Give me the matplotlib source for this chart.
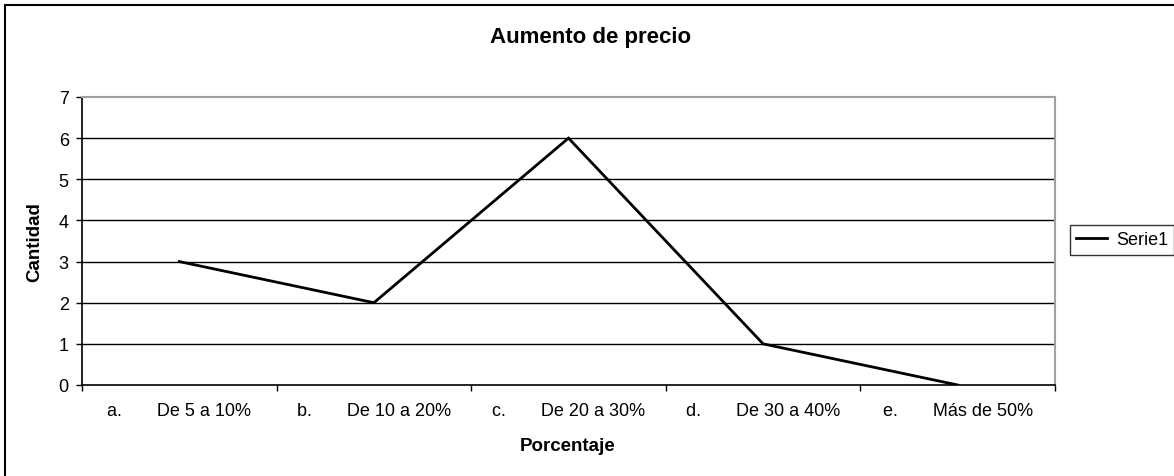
import matplotlib
matplotlib.use("Agg")
import matplotlib.pyplot as plt
from matplotlib.patches import Rectangle

letters = ["a.", "b.", "c.", "d.", "e."]
ranges = ["De 5 a 10%", "De 10 a 20%", "De 20 a 30%", "De 30 a 40%", "Más de 50%"]
values = [3, 2, 6, 1, 0]
series_name = "Serie1"
title = "Aumento de precio"
xlabel = "Porcentaje"
ylabel = "Cantidad"
yticks = [0, 1, 2, 3, 4, 5, 6, 7]

plt.rcParams['font.family'] = ['Liberation Sans', 'DejaVu Sans']

W, H = 1174, 477
fig = plt.figure(figsize=(W / 100, H / 100), dpi=100)
fig.patch.set_facecolor('white')

ax = fig.add_axes([82 / W, (H - 386) / H, (1055 - 82) / W, (386 - 98) / H])

xs = list(range(len(values)))
labels = [f"{l}       {r}" for l, r in zip(letters, ranges)]

ax.plot(xs, values, color='black', lw=2.0, label=series_name, zorder=3,
        solid_joinstyle='miter')

ax.set_xlim(-0.5, len(values) - 0.5)
ax.set_ylim(0, 7)
ax.set_yticks(yticks)
ax.set_yticklabels([str(v) for v in yticks], fontsize=13)
ax.tick_params(axis='y', direction='out', length=4.5, width=1, pad=5, colors='black')

ax.set_xticks([i - 0.5 for i in range(len(values) + 1)])
ax.set_xticklabels([])
ax.set_xticks(xs, minor=True)
ax.set_xticklabels(labels, minor=True, fontsize=13)
ax.tick_params(axis='x', which='major', direction='out', length=4.5, width=1)
ax.tick_params(axis='x', which='minor', length=0, pad=12)

for v in yticks[1:-1]:
    ax.axhline(v, color='black', lw=1, zorder=1)

for s in ['left', 'bottom']:
    ax.spines[s].set_color('black')
    ax.spines[s].set_linewidth(1.2)
for s in ['top', 'right']:
    ax.spines[s].set_color('#a0a0a0')
    ax.spines[s].set_linewidth(1.5)

fig.text(591 / W, (H - 38) / H, title, ha='center', va='center',
         fontsize=16, fontweight='bold')
fig.text(568 / W, (H - 447) / H, xlabel, ha='center', va='center',
         fontsize=13.5, fontweight='bold')
fig.text(35 / W, (H - 242) / H, ylabel, ha='center', va='center',
         rotation=90, fontsize=13.5, fontweight='bold')

leg = fig.legend(loc='center left', bbox_to_anchor=(1070 / W, (H - 241) / H),
                 fontsize=13, frameon=True, fancybox=False, shadow=False,
                 handlelength=1.7, handletextpad=0.5, borderpad=0.35,
                 borderaxespad=0)
leg.get_frame().set_edgecolor('black')
leg.get_frame().set_linewidth(1)

fig.patches.append(Rectangle((4.5 / W, -0.5), 2, (H - 6) / H + 0.5,
                             transform=fig.transFigure, fill=False,
                             edgecolor='black', lw=1.5))

fig.savefig("out.png", dpi=100)
